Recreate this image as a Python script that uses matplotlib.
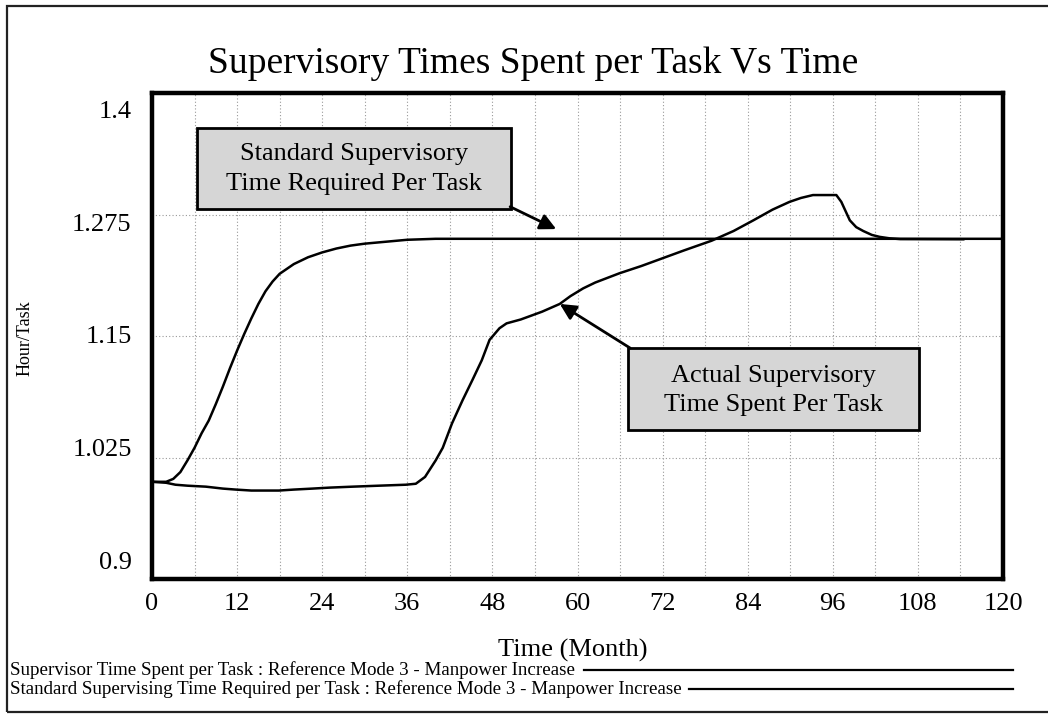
import matplotlib
matplotlib.use("Agg")
import matplotlib.pyplot as plt
from matplotlib.patches import Rectangle
from matplotlib.lines import Line2D

# ---- data -------------------------------------------------------------
std_month = [0, 2, 3, 4, 5, 6, 7, 8, 9, 10, 11, 12, 13, 14, 15, 16, 17, 18,
             20, 22, 24, 26, 28, 30, 33, 36, 40, 60, 80, 100, 120]
std_value = [1.0, 1.0, 1.003, 1.01, 1.022, 1.035, 1.05, 1.063, 1.08, 1.098,
             1.117, 1.135, 1.152, 1.168, 1.183, 1.196, 1.206, 1.214, 1.224,
             1.231, 1.236, 1.240, 1.243, 1.245, 1.247, 1.249, 1.25, 1.25,
             1.25, 1.25, 1.25]

act_month = [0, 2, 3.3, 5, 7.6, 10, 11.8, 14, 17.9, 20, 22.6, 25, 28.3, 32,
             35.8, 37.2, 38.5, 40, 41, 42.3, 43.8, 45.2, 46.5, 47.6, 49, 50,
             52, 55, 57.5, 59, 60.8, 62.5, 65.9, 69, 72, 75, 78.9, 82, 84.8,
             87.5, 89.9, 91.5, 93.2, 96.5, 97.2, 98.4, 99.3, 100.3, 101.5,
             102.6, 104, 105.5, 114.4]
act_value = [1.0, 0.999, 0.997, 0.996, 0.995, 0.993, 0.992, 0.991, 0.991,
             0.992, 0.993, 0.994, 0.995, 0.996, 0.997, 0.998, 1.005, 1.022,
             1.035, 1.06, 1.084, 1.105, 1.125, 1.146, 1.158, 1.163, 1.167,
             1.175, 1.183, 1.191, 1.199, 1.205, 1.2145, 1.222, 1.230, 1.238,
             1.248, 1.258, 1.269, 1.280, 1.288, 1.292, 1.295, 1.295, 1.288,
             1.269, 1.262, 1.258, 1.254, 1.252, 1.2505, 1.2497, 1.2495]

x_ticks = [0, 12, 24, 36, 48, 60, 72, 84, 96, 108, 120]
y_ticks = [0.9, 1.025, 1.15, 1.275, 1.4]
y_tick_labels = ["0.9", "1.025", "1.15", "1.275", "1.4"]

title = "Supervisory Times Spent per Task Vs Time"
x_label = "Time (Month)"
y_label = "Hour/Task"
label_std = "Standard Supervisory\nTime Required Per Task"
label_act = "Actual Supervisory\nTime Spent Per Task"
legend_act = "Supervisor Time Spent per Task : Reference Mode 3 - Manpower Increase"
legend_std = ("Standard Supervising Time Required per Task : "
              "Reference Mode 3 - Manpower Increase")

# ---- figure ----------------------------------------------------------
SERIF = ["Liberation Serif", "DejaVu Serif"]
plt.rcParams["font.family"] = SERIF

W, H = 1048, 717
fig = plt.figure(figsize=(W / 100, H / 100), dpi=100)
fig.patch.set_facecolor("white")


def fx(px):
    return px / W


def fy(py):
    return 1 - py / H


# outer frame
fig.add_artist(Rectangle((fx(7), fy(712)), fx(1060) - fx(7), fy(6) - fy(712),
                         transform=fig.transFigure, fill=False, lw=1.6,
                         edgecolor="#222222"))

ax = fig.add_axes([fx(152), fy(579), fx(1003) - fx(152), fy(93) - fy(579)])
ax.set_xlim(0, 120)
ax.set_ylim(0.9, 1.4)
for s in ax.spines.values():
    s.set_linewidth(3.2)
    s.set_color("black")

# grid
ax.set_xticks(x_ticks)
ax.set_xticks(range(6, 120, 12), minor=True)
ax.set_yticks(y_ticks)
ax.set_yticklabels([])
ax.grid(True, which="both", axis="x", color="#999999", lw=0.8, ls=(0, (1, 2)))
ax.grid(True, which="major", axis="y", color="#999999", lw=0.8, ls=(0, (1, 2)))
ax.tick_params(which="both", length=0)
ax.tick_params(axis="x", pad=10, labelsize=19)
ax.set_xticklabels([str(t) for t in x_ticks])

# y labels are spread evenly inside the axis span
for i, lab in enumerate(y_tick_labels):
    frac = 0.033 + i * (0.961 - 0.033) / (len(y_tick_labels) - 1)
    ax.text(-0.024, frac, lab, transform=ax.transAxes, ha="right",
            va="center", fontsize=19)

# series
ax.plot(std_month, std_value, color="black", lw=1.8, solid_joinstyle="round")
ax.plot(act_month, act_value, color="black", lw=1.8, solid_joinstyle="round")

# callout boxes
box_kw = dict(facecolor="#d6d6d6", edgecolor="black", lw=2.0, zorder=4)
ax.add_patch(Rectangle((6.35, 1.2807), 50.6 - 6.35, 1.364 - 1.2807, **box_kw))
ax.text(28.5, 1.322, label_std, ha="center", va="center", fontsize=19,
        linespacing=1.45, zorder=5)
ax.add_patch(Rectangle((67.1, 1.0533), 108.2 - 67.1, 1.1377 - 1.0533, **box_kw))
ax.text(87.6, 1.094, label_act, ha="center", va="center", fontsize=19,
        linespacing=1.45, zorder=5)

arrow_kw = dict(arrowstyle="-|>", color="black", lw=2.0, mutation_scale=24,
                shrinkA=0, shrinkB=0)
ax.annotate("", xy=(57.0, 1.260), xytext=(50.5, 1.283), arrowprops=arrow_kw,
            zorder=6)
ax.annotate("", xy=(57.5, 1.183), xytext=(67.4, 1.1377), arrowprops=arrow_kw,
            zorder=6)

# titles
fig.text(fx(533), fy(64), title, ha="center", va="center", fontsize=27)
fig.text(fx(573), fy(650), x_label, ha="center", va="center", fontsize=19)
fig.text(fx(25), fy(338), y_label, ha="center", va="center", fontsize=13,
         rotation=90)

# series key at the bottom
fig.text(fx(10), fy(670), legend_act, ha="left", va="center", fontsize=13.7)
fig.text(fx(10), fy(689), legend_std, ha="left", va="center", fontsize=13.7)
fig.add_artist(Line2D([fx(584), fx(1013)], [fy(670), fy(670)], color="black",
                      lw=1.6, transform=fig.transFigure))
fig.add_artist(Line2D([fx(689), fx(1013)], [fy(689), fy(689)], color="black",
                      lw=1.6, transform=fig.transFigure))

fig.savefig("out.png", dpi=100, facecolor="white")
